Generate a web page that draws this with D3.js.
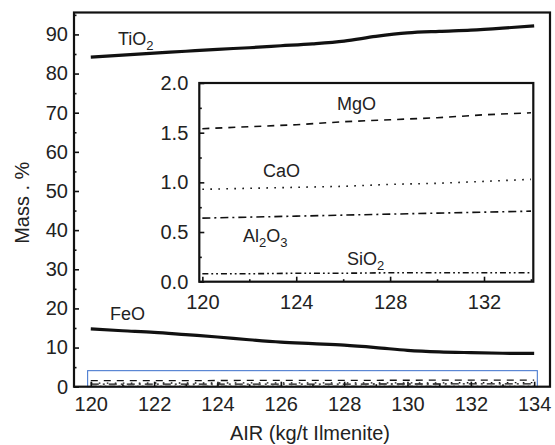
<!DOCTYPE html>
<html>
<head>
<meta charset="utf-8">
<script src="https://cdn.jsdelivr.net/npm/d3@7"></script>
<style>
  body { margin: 0; background: #fff; }
  svg { display: block; font-family: "Liberation Sans", Arial, sans-serif; }
</style>
</head>
<body>
<svg id="chart" width="555" height="445"></svg>
<script>
// ---------- data ----------
const mainX = [120, 121, 122, 123, 124, 125, 126, 127, 128, 129, 130, 131, 132, 133, 134];
const tio2  = [84.2, 84.7, 85.2, 85.7, 86.2, 86.6, 87.1, 87.6, 88.3, 89.5, 90.4, 90.8, 91.1, 91.6, 92.2];
const feo   = [14.75, 14.3, 13.9, 13.3, 12.7, 12.0, 11.4, 11.0, 10.6, 10.0, 9.3, 8.9, 8.7, 8.55, 8.5];

const insetX = [120, 122, 124, 126, 128, 130, 132, 134];
const mgo    = [1.54, 1.56, 1.58, 1.61, 1.63, 1.65, 1.68, 1.70];
const cao    = [0.93, 0.94, 0.95, 0.96, 0.98, 0.99, 1.01, 1.03];
const al2o3  = [0.64, 0.65, 0.66, 0.67, 0.68, 0.69, 0.70, 0.71];
const sio2   = [0.08, 0.08, 0.085, 0.085, 0.09, 0.09, 0.09, 0.09];

const mainXTicks = [120, 122, 124, 126, 128, 130, 132, 134];
const mainXMinor = [121, 123, 125, 127, 129, 131, 133];
const mainYTicks = [0, 10, 20, 30, 40, 50, 60, 70, 80, 90];
const mainYMinor = [5, 15, 25, 35, 45, 55, 65, 75, 85, 95];
const insetXTicks = [120, 124, 128, 132];
const insetXMinor = [122, 126, 130, 134];
const insetYTicks = [0, 0.5, 1.0, 1.5, 2.0];
const insetYMinor = [0.25, 0.75, 1.25, 1.75];

const zoomBox = { x0: 119.9, x1: 134.1, y0: 0, y1: 4.1 };

// ---------- setup ----------
const svg = d3.select("#chart");
const x = d3.scaleLinear([119.47, 134.5], [74, 550]);
const y = d3.scaleLinear([0, 95.6], [386.7, 12.5]);
const xi = d3.scaleLinear([119.87, 134.1], [199.3, 533.3]);
const yi = d3.scaleLinear([0, 2.0], [281.7, 83]);

const styles = {
  mgo:   { dash: "7,6",            w: 1.6 },
  cao:   { dash: "1.6,6.4",        w: 1.6 },
  al2o3: { dash: "8,4,2,4",        w: 1.6 },
  sio2:  { dash: "6,3,1.8,3,1.8,3", w: 1.6 }
};

function styleAxis(g, size) {
  g.select(".domain").remove();
  g.selectAll("line").attr("stroke", "#111").attr("stroke-width", 1.6);
  g.selectAll("text").attr("fill", "#222").style("font-size", size + "px")
    .style("font-family", '"Liberation Sans", Arial, sans-serif');
}

// ---------- main chart ----------
// zoom rectangle
svg.append("rect")
  .attr("x", x(zoomBox.x0)).attr("y", y(zoomBox.y1))
  .attr("width", x(zoomBox.x1) - x(zoomBox.x0))
  .attr("height", y(zoomBox.y0) - y(zoomBox.y1))
  .attr("fill", "none").attr("stroke", "#4a7bd0").attr("stroke-width", 1.1);

// small copies of minor oxides in main scale
const smallLine = d3.line().x((d, i) => x(insetX[i])).y(d => y(d));
[[mgo, styles.mgo], [cao, styles.cao], [al2o3, styles.al2o3], [sio2, styles.sio2]].forEach(([arr, s]) => {
  svg.append("path").attr("d", smallLine(arr)).attr("fill", "none")
    .attr("stroke", "#111").attr("stroke-width", 1.3).attr("stroke-dasharray", s.dash);
});

const mainLine = d3.line().x((d, i) => x(mainX[i])).y(d => y(d)).curve(d3.curveMonotoneX);
svg.append("path").attr("d", mainLine(tio2)).attr("fill", "none")
  .attr("stroke", "#111").attr("stroke-width", 3.2);
svg.append("path").attr("d", mainLine(feo)).attr("fill", "none")
  .attr("stroke", "#111").attr("stroke-width", 3.2);

// axes
svg.append("g").attr("transform", `translate(0,${y(0)})`)
  .call(d3.axisBottom(x).tickValues(mainXTicks).tickSize(-5).tickPadding(10).tickFormat(d3.format("d")))
  .call(g => styleAxis(g, 20));
svg.append("g").attr("transform", `translate(0,${y(0)})`)
  .call(d3.axisBottom(x).tickValues(mainXMinor).tickSize(-2.5).tickFormat(""))
  .call(g => styleAxis(g, 20));
svg.append("g").attr("transform", `translate(${x.range()[0]},0)`)
  .call(d3.axisLeft(y).tickValues(mainYTicks).tickSize(-5).tickPadding(6).tickFormat(d3.format("d")))
  .call(g => styleAxis(g, 20));
svg.append("g").attr("transform", `translate(${x.range()[0]},0)`)
  .call(d3.axisLeft(y).tickValues(mainYMinor).tickSize(-2.5).tickFormat(""))
  .call(g => styleAxis(g, 20));

// frame
svg.append("rect")
  .attr("x", x.range()[0]).attr("y", y.range()[1])
  .attr("width", x.range()[1] - x.range()[0]).attr("height", y.range()[0] - y.range()[1])
  .attr("fill", "none").attr("stroke", "#111").attr("stroke-width", 2.2);

// ---------- inset ----------
const inset = svg.append("g");
inset.append("rect")
  .attr("x", xi.range()[0]).attr("y", yi.range()[1])
  .attr("width", xi.range()[1] - xi.range()[0]).attr("height", yi.range()[0] - yi.range()[1])
  .attr("fill", "#fff").attr("stroke", "none");

const insetLine = d3.line().x((d, i) => xi(insetX[i])).y(d => yi(d));
[[mgo, styles.mgo], [cao, styles.cao], [al2o3, styles.al2o3], [sio2, styles.sio2]].forEach(([arr, s]) => {
  inset.append("path").attr("d", insetLine(arr)).attr("fill", "none")
    .attr("stroke", "#111").attr("stroke-width", s.w).attr("stroke-dasharray", s.dash);
});

inset.append("g").attr("transform", `translate(0,${yi(0)})`)
  .call(d3.axisBottom(xi).tickValues(insetXTicks).tickSize(-5).tickPadding(13).tickFormat(d3.format("d")))
  .call(g => styleAxis(g, 20));
inset.append("g").attr("transform", `translate(0,${yi(0)})`)
  .call(d3.axisBottom(xi).tickValues(insetXMinor).tickSize(-2.5).tickFormat(""))
  .call(g => styleAxis(g, 20));
inset.append("g").attr("transform", `translate(${xi.range()[0]},0)`)
  .call(d3.axisLeft(yi).tickValues(insetYTicks).tickSize(-5).tickPadding(11).tickFormat(d3.format(".1f")))
  .call(g => styleAxis(g, 20));
inset.append("g").attr("transform", `translate(${xi.range()[0]},0)`)
  .call(d3.axisLeft(yi).tickValues(insetYMinor).tickSize(-2.5).tickFormat(""))
  .call(g => styleAxis(g, 20));

inset.append("rect")
  .attr("x", xi.range()[0]).attr("y", yi.range()[1])
  .attr("width", xi.range()[1] - xi.range()[0]).attr("height", yi.range()[0] - yi.range()[1])
  .attr("fill", "none").attr("stroke", "#111").attr("stroke-width", 2.2);

// ---------- labels ----------
function label(px, py, main, sub, after) {
  const t = svg.append("text").attr("x", px).attr("y", py)
    .attr("fill", "#222").style("font-size", "18px");
  t.append("tspan").text(main);
  if (sub) t.append("tspan").attr("dy", 5).style("font-size", "13px").text(sub);
  if (after) t.append("tspan").attr("dy", -5).text(after);
  return t;
}
label(118, 45, "TiO", "2");
label(110, 320, "FeO");
label(337, 110, "MgO");
label(263, 177, "CaO");
label(243, 242, "Al", "2", "O").append("tspan").attr("dy", 5).style("font-size", "13px").text("3");
label(347, 265, "SiO", "2");

svg.append("text")
  .attr("x", (x.range()[0] + x.range()[1]) / 2 - 2).attr("y", 440)
  .attr("text-anchor", "middle").attr("fill", "#222").style("font-size", "20px")
  .text("AIR (kg/t Ilmenite)");
svg.append("text")
  .attr("transform", `translate(29,${y(47)}) rotate(-90)`)
  .attr("text-anchor", "middle").attr("fill", "#222").style("font-size", "20px")
  .text("Mass . %");
</script>
</body>
</html>
